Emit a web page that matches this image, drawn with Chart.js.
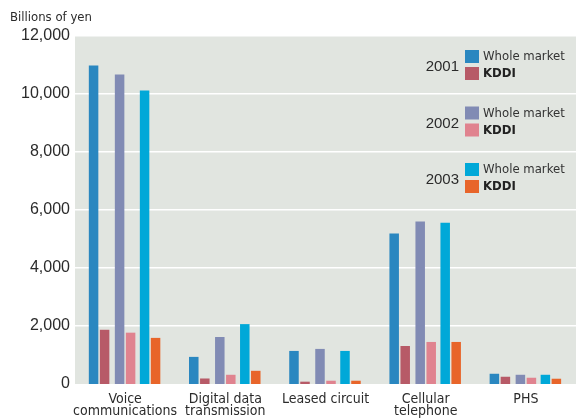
<!DOCTYPE html>
<html>
<head>
<meta charset="utf-8">
<script src="https://cdn.jsdelivr.net/npm/chart.js@4.4.1/dist/chart.umd.min.js"></script>
<style>
    html, body {
        margin: 0;
        padding: 0;
        background: #ffffff;
    }
    #wrap {
        width: 576px;
        height: 419px;
        position: relative;
    }
</style>
</head>
<body>
<div id="wrap"><canvas id="chart"></canvas></div>
<script>
// category names on the x axis (multi-line where the original breaks)
const categories = [
    ["Voice", "communications"],
    ["Digital data", "transmission"],
    "Leased circuit",
    ["Cellular", "telephone"],
    "PHS",
];
const years = ["2001", "2002", "2003"];
const seriesNames = ["Whole market", "KDDI"];

// Billions of yen
const wholeMarket2001 = [10980, 935, 1140, 5190, 353];
const kddi2001 = [1870, 190, 80, 1310, 250];
const wholeMarket2002 = [10670, 1620, 1210, 5600, 318];
const kddi2002 = [1770, 318, 113, 1450, 216];
const wholeMarket2003 = [10120, 2065, 1140, 5560, 318];
const kddi2003 = [1590, 455, 113, 1450, 182];

const yMax = 12000;
const yStep = 2000;

const NARROW = "'Liberation Sans Narrow', 'Arial Narrow', 'DejaVu Sans Condensed', sans-serif";
const REGULAR = "'Liberation Sans', Arial, sans-serif";
const TEXT = "#2b2b2b";
const PLOT_BG = "#e1e5e0";

const colors = [
    ["#2a87c0", "#b75a67"],
    ["#818bb4", "#e0838f"],
    ["#00a8d8", "#e8652a"],
];

// per-bar slot tuning so the pairs sit tight and the years spread apart
const slots = [
    { cat: 0.755, bar: 0.754 },
    { cat: 0.818, bar: 0.695 },
    { cat: 0.659, bar: 0.864 },
    { cat: 0.659, bar: 0.864 },
    { cat: 0.778, bar: 0.731 },
    { cat: 0.730, bar: 0.779 },
];

const seriesByYear = [
    [wholeMarket2001, kddi2001],
    [wholeMarket2002, kddi2002],
    [wholeMarket2003, kddi2003],
];

const datasets = [];
seriesByYear.forEach((pair, y) => {
    pair.forEach((values, s) => {
        const slot = slots[datasets.length];
        datasets.push({
            label: years[y] + " " + seriesNames[s],
            data: values,
            backgroundColor: colors[y][s],
            borderWidth: 0,
            categoryPercentage: slot.cat,
            barPercentage: slot.bar,
        });
    });
});

const plotBackground = {
    id: "plotBackground",
    beforeDraw: (chart) => {
        const { ctx, chartArea } = chart;
        ctx.save();
        ctx.fillStyle = PLOT_BG;
        ctx.fillRect(chartArea.left, chartArea.top, chartArea.right - chartArea.left, chartArea.bottom - chartArea.top);
        ctx.restore();
    },
};

const yearLegend = {
    id: "yearLegend",
    afterDatasetsDraw: (chart) => {
        const { ctx, chartArea } = chart;
        const right = chartArea.right;
        ctx.save();
        years.forEach((year, i) => {
            const cy = chartArea.top + 30 + i * 56.5;

            ctx.fillStyle = TEXT;
            ctx.font = "15px " + REGULAR;
            ctx.textAlign = "right";
            ctx.textBaseline = "middle";
            ctx.fillText(year, right - 117, cy + 1);

            ctx.fillStyle = chart.data.datasets[i * 2].backgroundColor;
            ctx.fillRect(right - 111, cy - 16, 14, 13);
            ctx.fillStyle = chart.data.datasets[i * 2 + 1].backgroundColor;
            ctx.fillRect(right - 111, cy + 1, 14, 13);

            ctx.textAlign = "left";
            ctx.fillStyle = "#333333";
            ctx.font = "13px " + NARROW;
            ctx.fillText(seriesNames[0], right - 93, cy - 9);
            ctx.fillStyle = "#222222";
            ctx.font = "bold 13px " + NARROW;
            ctx.fillText(seriesNames[1], right - 93, cy + 8);
        });
        ctx.restore();
    },
};

const ctx = document.getElementById("chart").getContext("2d");
new Chart(ctx, {
    type: "bar",
    data: {
        labels: categories,
        datasets: datasets,
    },
    options: {
        responsive: true,
        maintainAspectRatio: false,
        animation: false,
        layout: {
            padding: { left: 10, right: 0, top: 0, bottom: 0 },
        },
        plugins: {
            legend: { display: false },
            tooltip: { enabled: false },
            title: {
                display: true,
                text: "Billions of yen",
                align: "start",
                color: TEXT,
                font: { family: NARROW, size: 13, weight: "normal", lineHeight: 1.2 },
                padding: { top: 10, bottom: 10.4 },
            },
        },
        scales: {
            x: {
                grid: { display: false, drawTicks: false },
                border: { display: false },
                ticks: {
                    color: TEXT,
                    font: { family: NARROW, size: 14, lineHeight: 0.86 },
                    padding: 9.5,
                    maxRotation: 0,
                    autoSkip: false,
                },
                afterFit: (scale) => {
                    scale.height = 35;
                },
            },
            y: {
                min: 0,
                max: yMax,
                grid: {
                    color: "#ffffff",
                    lineWidth: (c) => (c.tick && c.tick.value === 0 ? 0 : 1.5),
                    drawTicks: false,
                },
                border: { display: false },
                ticks: {
                    stepSize: yStep,
                    color: TEXT,
                    font: { family: REGULAR, size: 16 },
                    padding: 5,
                    callback: (v) => v.toLocaleString("en-US"),
                },
                afterFit: (scale) => {
                    scale.width = 65;
                },
            },
        },
    },
    plugins: [plotBackground, yearLegend],
});
</script>
</body>
</html>
